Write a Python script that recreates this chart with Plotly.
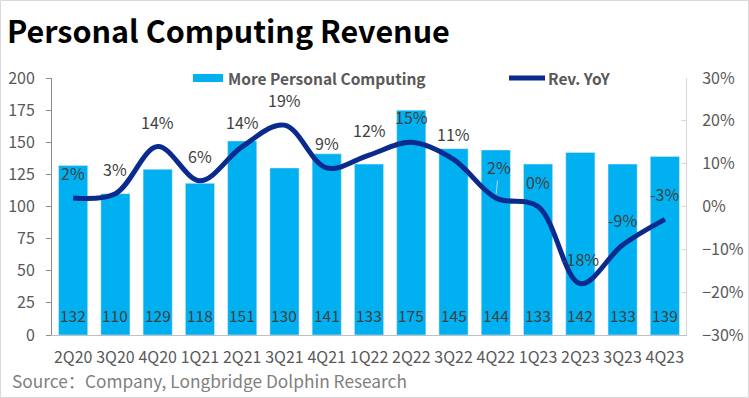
import plotly.graph_objects as go

quarters = ["2Q20", "3Q20", "4Q20", "1Q21", "2Q21", "3Q21", "4Q21", "1Q22",
            "2Q22", "3Q22", "4Q22", "1Q23", "2Q23", "3Q23", "4Q23"]
revenue = [132, 110, 129, 118, 151, 130, 141, 133, 175, 145, 144, 133, 142, 133, 139]
yoy = [2, 3, 14, 6, 14, 19, 9, 12, 15, 11, 2, 0, -18, -9, -3]

title_text = "Personal Computing Revenue"
bar_name = "More Personal Computing"
line_name = "Rev. YoY"
source_text = "Source：Company, Longbridge Dolphin Research"

FONT = "Noto Sans CJK SC"
BAR_COLOR = "#00B0F0"
LINE_COLOR = "#0B2A8E"
TXT = "#595959"
LBL = "#404040"

W, H = 749, 398
ML, MR, MT, MB = 52, 63, 78, 63
PW = W - ML - MR
PH = H - MT - MB

fig = go.Figure()
fig.add_trace(go.Bar(
    x=quarters, y=revenue, name=bar_name, marker_color=BAR_COLOR,
    showlegend=False, hoverinfo="x+y",
))
fig.add_trace(go.Scatter(
    x=quarters, y=yoy, name=line_name, mode="lines", yaxis="y2",
    line=dict(color=LINE_COLOR, width=5, shape="spline", smoothing=1.0),
    showlegend=False,
))

# bar value labels near the base
for q, v in zip(quarters, revenue):
    fig.add_annotation(x=q, y=0, yref="y", text=str(v), showarrow=False,
                       yanchor="middle", yshift=20,
                       font=dict(family=FONT, size=15.5, color=LBL))

# data labels for YoY
for i, (q, v) in enumerate(zip(quarters, yoy)):
    if i == 10:
        fig.add_annotation(x=q, y=v, yref="y2", text=f"{v}%", showarrow=True,
                           arrowhead=0, arrowwidth=0.8, arrowcolor="#e0e0e0",
                           ax=3, ay=-31, standoff=4,
                           font=dict(family=FONT, size=16, color=LBL))
    else:
        fig.add_annotation(x=q, y=v, yref="y2", text=f"{v}%", showarrow=False,
                           yshift=25, font=dict(family=FONT, size=16, color=LBL))

# legend (manual)
fig.add_shape(type="rect", xref="paper", yref="paper",
              x0=(193 - ML) / PW, x1=(223 - ML) / PW,
              y0=(H - MB - 82) / PH, y1=(H - MB - 74) / PH,
              fillcolor=BAR_COLOR, line=dict(width=0))
fig.add_annotation(xref="paper", yref="paper", x=(226 - ML) / PW, y=(H - MB - 78) / PH,
                   xanchor="left", yanchor="middle", showarrow=False, text=f"<b>{bar_name}</b>",
                   font=dict(family=FONT, size=15.5, color=TXT))
fig.add_shape(type="line", xref="paper", yref="paper",
              x0=(509 - ML) / PW, x1=(545 - ML) / PW,
              y0=(H - MB - 78) / PH, y1=(H - MB - 78) / PH,
              line=dict(color=LINE_COLOR, width=5))
fig.add_annotation(xref="paper", yref="paper", x=(546 - ML) / PW, y=(H - MB - 78) / PH,
                   xanchor="left", yanchor="middle", showarrow=False, text=f"<b>{line_name}</b>",
                   font=dict(family=FONT, size=15.5, color=TXT))

# title and source
fig.add_annotation(xref="paper", yref="paper", x=(5 - ML) / PW, y=(H - MB - 30) / PH,
                   xanchor="left", yanchor="middle", showarrow=False, text=f"<b>{title_text}</b>",
                   font=dict(family=FONT, size=30.5, color="#000000"))
fig.add_annotation(xref="paper", yref="paper", x=(10 - ML) / PW, y=(H - MB - 380) / PH,
                   xanchor="left", yanchor="middle", showarrow=False, text=source_text,
                   font=dict(family=FONT, size=17.3, color="#7f7f7f"))

# outer border
fig.add_shape(type="rect", xref="paper", yref="paper",
              x0=(0.5 - ML) / PW, x1=(W - 0.5 - ML) / PW,
              y0=(H - MB - (H - 0.5)) / PH, y1=(H - MB - 0.5) / PH,
              line=dict(color="#d9d9d9", width=1), layer="below")

fig.update_layout(
    width=W, height=H,
    margin=dict(l=ML, r=MR, t=MT, b=MB, pad=0, autoexpand=False),
    paper_bgcolor="white", plot_bgcolor="white",
    bargap=0.31,
    font=dict(family=FONT, size=16, color=TXT),
    xaxis=dict(showline=True, linecolor="#bfbfbf", linewidth=1, ticks="",
               ticklabelstandoff=8, tickangle=0, automargin=False,
               tickfont=dict(family=FONT, size=16, color=TXT), showgrid=False),
    yaxis=dict(range=[0, 200], dtick=25, showline=True, linecolor="#8c8c8c",
               linewidth=1, ticks="outside", ticklen=5, tickcolor="#8c8c8c",
               showgrid=False, zeroline=False, ticklabelstandoff=8, automargin=False,
               tickfont=dict(family=FONT, size=16, color=TXT)),
    yaxis2=dict(range=[-30, 30], dtick=10, overlaying="y", side="right",
                ticksuffix="%", showline=True, linecolor="#d9d9d9", linewidth=1,
                ticks="inside", ticklen=5, tickcolor="#d9d9d9", automargin=False,
                showgrid=False, zeroline=False, ticklabelstandoff=12,
                tickfont=dict(family=FONT, size=16, color=TXT)),
)

fig.write_html("out.html", config={"displayModeBar": False},
               post_script="document.body.style.margin='0';document.body.style.overflow='hidden';")
